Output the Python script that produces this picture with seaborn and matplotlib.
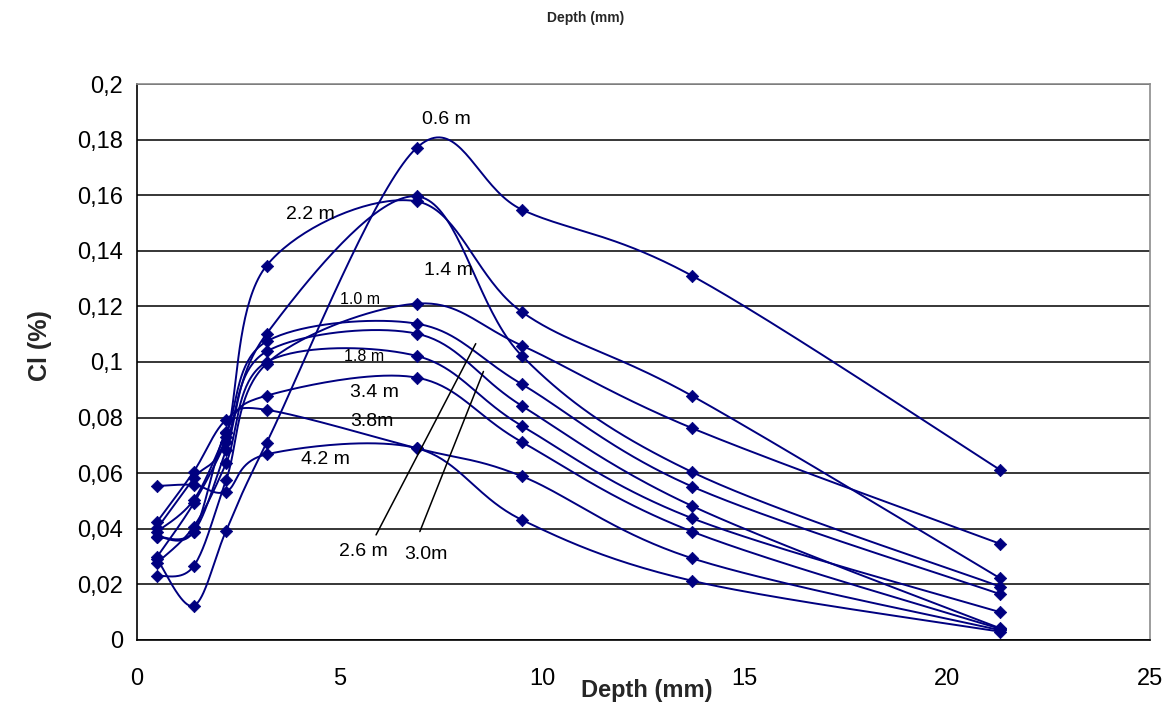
import numpy as np
import pandas as pd
import matplotlib
matplotlib.use("Agg")
import matplotlib.pyplot as plt
import seaborn as sns

# Sampling depths (mm)
depth = [0.5, 1.4, 2.2, 3.2, 6.9, 9.5, 13.7, 21.3]

# Chloride content (%) for each sampling height
cl_0_6 = [0.0290, 0.0123, 0.0393, 0.0710, 0.1770, 0.1548, 0.1310, 0.0612]
cl_1_0 = [0.0230, 0.0266, 0.0576, 0.0994, 0.1210, 0.1059, 0.0762, 0.0346]
cl_1_4 = [0.0372, 0.0390, 0.0684, 0.1102, 0.1596, 0.1022, 0.0604, 0.0192]
cl_1_8 = [0.0278, 0.0408, 0.0636, 0.1000, 0.1022, 0.0770, 0.0438, 0.0100]
cl_2_2 = [0.0402, 0.0582, 0.0731, 0.1347, 0.1578, 0.1180, 0.0878, 0.0222]
cl_2_6 = [0.0390, 0.0504, 0.0744, 0.1074, 0.1138, 0.0920, 0.0552, 0.0165]
cl_3_0 = [0.0300, 0.0492, 0.0714, 0.1038, 0.1102, 0.0842, 0.0482, 0.0042]
cl_3_4 = [0.0372, 0.0390, 0.0750, 0.0879, 0.0944, 0.0712, 0.0390, 0.0040]
cl_3_8 = [0.0426, 0.0606, 0.0792, 0.0828, 0.0690, 0.0589, 0.0294, 0.0035]
cl_4_2 = [0.0554, 0.0558, 0.0534, 0.0668, 0.0690, 0.0432, 0.0213, 0.0030]

heights = ["0.6 m", "1.0 m", "1.4 m", "1.8 m", "2.2 m",
           "2.6 m", "3.0 m", "3.4 m", "3.8 m", "4.2 m"]
profiles = [cl_0_6, cl_1_0, cl_1_4, cl_1_8, cl_2_2,
            cl_2_6, cl_3_0, cl_3_4, cl_3_8, cl_4_2]

y_ticks = [0, 0.02, 0.04, 0.06, 0.08, 0.1, 0.12, 0.14, 0.16, 0.18, 0.2]
x_ticks = [0, 5, 10, 15, 20, 25]

NAVY = "#000080"

W, H, DPI = 1174, 716, 100
L, R, T, B = 137, 1150, 84, 640
XMAX, YMAX = 25, 0.2
SX = (R - L) / XMAX     # px per mm
SY = (B - T) / YMAX     # px per %


def smooth_curve(x, y, n=40):
    """Bezier smoothing through the points (Catmull-Rom tangents, screen space)."""
    P = np.column_stack([np.asarray(x) * SX, np.asarray(y) * SY])
    Q = np.vstack([P[0], P, P[-1]])
    out = []
    for i in range(len(P) - 1):
        p0, p1, p2, p3 = Q[i], Q[i + 1], Q[i + 2], Q[i + 3]
        c1 = p1 + (p2 - p0) / 6.0
        c2 = p2 - (p3 - p1) / 6.0
        t = np.linspace(0, 1, n, endpoint=(i == len(P) - 2))[:, None]
        seg = ((1 - t) ** 3) * p1 + 3 * ((1 - t) ** 2) * t * c1 \
            + 3 * (1 - t) * (t ** 2) * c2 + (t ** 3) * p2
        out.append(seg)
    out = np.vstack(out)
    return out[:, 0] / SX, out[:, 1] / SY


curve_rows = []
point_rows = []
for name, vals in zip(heights, profiles):
    xs, ys = smooth_curve(depth, vals)
    for k, (a, b) in enumerate(zip(xs, ys)):
        curve_rows.append({"height": name, "order": k, "depth": a, "cl": b})
    for a, b in zip(depth, vals):
        point_rows.append({"height": name, "depth": a, "cl": b})
curves = pd.DataFrame(curve_rows)
points = pd.DataFrame(point_rows)

sns.set_theme(style="white")
plt.rcParams["font.family"] = ["Liberation Sans", "DejaVu Sans"]

fig = plt.figure(figsize=(W / DPI, H / DPI), dpi=DPI)
ax = fig.add_axes([L / W, 1 - B / H, (R - L) / W, (B - T) / H])

sns.lineplot(data=curves, x="depth", y="cl", units="height", estimator=None,
             sort=False, color=NAVY, linewidth=1.4, ax=ax, legend=False)
sns.scatterplot(data=points, x="depth", y="cl", marker="D", s=40,
                color=NAVY, edgecolor=NAVY, linewidth=0.5, ax=ax,
                legend=False, zorder=5)

ax.set_xlim(0, XMAX)
ax.set_ylim(0, YMAX)
ax.set_xticks(x_ticks)
ax.set_yticks(y_ticks)
ax.set_xticklabels([str(v) for v in x_ticks])
ax.set_yticklabels([f"{v:g}".replace(".", ",") for v in y_ticks])
ax.set_xlabel("")
ax.set_ylabel("")

ax.yaxis.grid(True, color="black", linewidth=1.1)
ax.xaxis.grid(False)
ax.set_axisbelow(True)
for s in ("left", "bottom"):
    ax.spines[s].set_color("black")
    ax.spines[s].set_linewidth(1.2)
for s in ("top", "right"):
    ax.spines[s].set_color("#8c8c8c")
    ax.spines[s].set_linewidth(1.2)
ax.tick_params(axis="both", which="major", direction="out", length=6,
               width=1, color="black", labelsize=17, labelcolor="black")
ax.tick_params(axis="x", pad=14)
ax.tick_params(axis="y", pad=4)

# Curve labels
labels = [
    ("0.6 m", 7.63, 0.1872, 14),
    ("2.2 m", 4.27, 0.1530, 14),
    ("1.4 m", 7.68, 0.1328, 14),
    ("1.0 m", 5.50, 0.1224, 11.5),
    ("1.8 m", 5.60, 0.1019, 11.5),
    ("3.4 m", 5.87, 0.0889, 14),
    ("3.8m", 5.80, 0.0785, 14),
    ("4.2 m", 4.66, 0.0648, 14),
    ("2.6 m", 5.58, 0.0318, 14),
    ("3.0m", 7.13, 0.0308, 14),
]
for txt, lx, ly, fs in labels:
    ax.text(lx, ly, txt, ha="center", va="center", fontsize=fs,
            color="black", zorder=6)

# Leader lines for the 2.6 m and 3.0 m profiles
ax.plot([5.90, 8.36], [0.0378, 0.1066], color="black", linewidth=1.1, zorder=6)
ax.plot([6.98, 8.55], [0.0390, 0.0966], color="black", linewidth=1.1, zorder=6)

fig.text(586 / W, 1 - 18 / H, "Depth (mm)", ha="center", va="center",
         fontsize=10, fontweight="bold")
fig.text(647 / W, 1 - 690 / H, "Depth (mm)", ha="center", va="center",
         fontsize=17, fontweight="bold")
fig.text(40 / W, 1 - 346 / H, "Cl (%)", ha="center", va="center",
         fontsize=18, fontweight="bold", rotation=90)

fig.savefig("out.png", dpi=DPI, facecolor="white")
